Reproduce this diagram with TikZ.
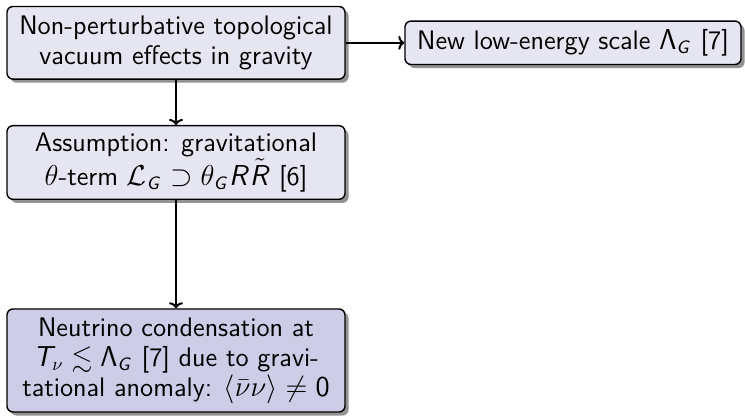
\documentclass[tikz,border=0pt]{standalone}
\usepackage{amsmath,amssymb}
\usetikzlibrary{shadows,arrows.meta}
\DeclareMathAlphabet{\mathsfit}{OT1}{cmss}{m}{sl}
\definecolor{boxlight}{RGB}{230,230,242}
\definecolor{boxdark}{RGB}{205,205,232}
\begin{document}
\begin{tikzpicture}[x=1pt,y=1pt,
  box/.style={draw=black, line width=0.7pt, rounded corners=3pt, fill=boxlight,
    align=center, inner sep=0pt, font=\fontsize{13.4}{15}\selectfont\sffamily,
    drop shadow={shadow xshift=1.8pt, shadow yshift=-1.8pt, fill=black!50, opacity=0.85}},
  arr/.style={-{To[length=3pt,width=7pt]}, line width=1pt}]
\useasboundingbox (0,0) rectangle (372.5,208.5);
\node[box, minimum width=169pt, minimum height=36.3pt] (a) at (88,187.1)
  {Non-perturbative topological\\vacuum effects in gravity};
\node[box, minimum width=168pt, minimum height=21.7pt] (d) at (286.5,187.1)
  {New low-energy scale $\mathsf{\Lambda}_{\mathsfit{G}}$ [7]};
\node[box, minimum width=169pt, minimum height=36.8pt] (b) at (88,127.25)
  {Assumption: gravitational\\$\theta$-term $\mathcal{L}_{\mathsfit{G}}\supset\theta_{\mathsfit{G}}\mathsfit{R}\tilde{\mathsfit{R}}$ [6]};
\node[box, fill=boxdark, minimum width=169pt, minimum height=51.5pt] (c) at (88,28.25)
  {Neutrino condensation at\\$\mathsfit{T}_\nu\lesssim\mathsf{\Lambda}_{\mathsfit{G}}$ [7] due to gravi-\\tational anomaly: $\langle\bar\nu\nu\rangle\neq\mathsf{0}$};
\draw[arr] (a) -- (b);
\draw[arr] (b) -- (c);
\draw[arr] (a) -- (d);
\end{tikzpicture}
\end{document}
